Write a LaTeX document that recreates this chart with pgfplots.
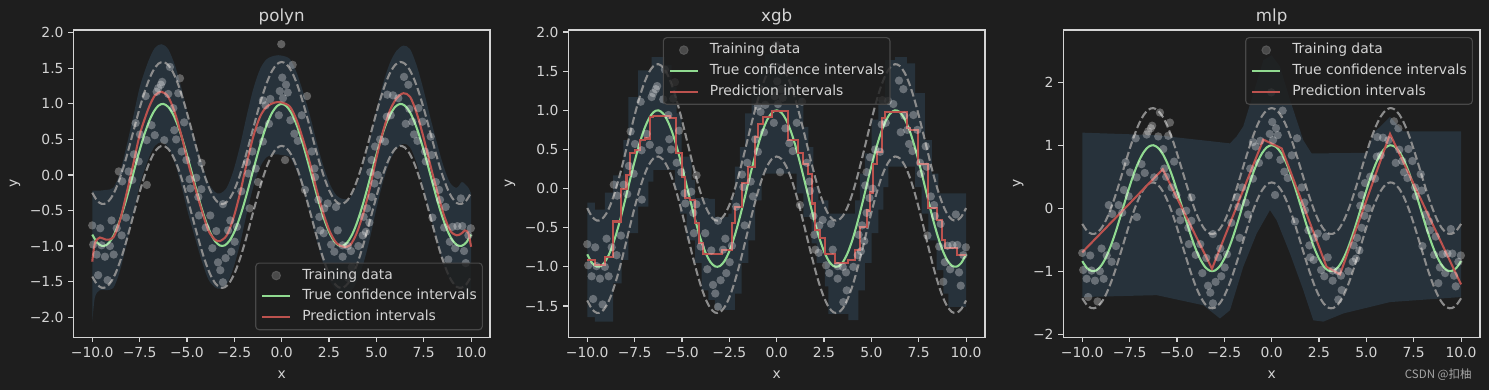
\documentclass[border=0pt]{standalone}
\usepackage{pgfplots}
\pgfplotsset{compat=1.18}
\usepackage{pgfplotstable}
\usepgfplotslibrary{fillbetween}
\usepackage{fontspec}
\setmainfont{DejaVu Sans}
\newfontfamily\cjk{Noto Sans CJK SC}

\definecolor{bgc}{RGB}{30,30,30}
\definecolor{fgc}{RGB}{212,212,212}
\definecolor{bandc}{RGB}{39,50,59}
\definecolor{tcgreen}{RGB}{144,218,144}
\definecolor{pred}{RGB}{188,82,78}
\definecolor{dashc}{RGB}{140,140,140}
\definecolor{legc}{RGB}{72,72,72}
\definecolor{wmc}{RGB}{165,165,165}
\definecolor{legmark}{RGB}{86,86,86}

\pgfplotstableread{
x y
-10.00 -0.71
-9.95 -0.98
-9.77 -1.12
-9.58 -0.75
-9.69 -1.41
-9.19 -1.48
-9.33 -1.15
-9.51 -0.99
-9.07 -1.00
-8.98 -0.64
-8.87 -1.12
-8.71 -0.75
-8.45 -0.85
-8.22 -0.60
-8.60 0.05
-8.08 0.05
-8.42 -0.09
-7.89 -0.07
-7.12 -0.14
-7.80 0.29
-7.55 0.19
-7.71 0.73
-7.48 0.57
-7.13 0.49
-6.87 0.70
-6.70 0.56
-7.18 1.11
-6.38 1.27
-6.31 1.31
-6.52 1.22
-6.60 1.17
-5.90 1.52
-5.37 1.36
-5.99 1.14
-5.46 1.15
-5.67 0.63
-6.20 0.49
-5.57 0.50
-5.28 0.33
-5.15 0.74
-5.72 0.94
-4.23 0.17
-5.03 0.21
-4.86 -0.06
-4.51 -0.04
-4.82 -0.19
-4.24 -0.20
-4.40 -0.31
-2.13 -0.23
-3.10 -0.41
-1.69 -0.47
-4.37 -0.57
-3.77 -0.57
-2.71 -0.64
-4.01 -0.74
-3.45 -0.79
-2.83 -0.78
-2.36 -0.73
-2.48 -0.94
-3.66 -1.03
-2.66 -1.08
-2.96 -1.17
-3.36 -1.23
-3.24 -1.34
-3.10 -1.51
-1.25 -0.10
-1.37 0.09
-1.83 0.18
-1.76 0.02
-1.55 0.33
-0.99 0.47
-1.13 0.63
-0.67 0.72
-0.15 0.84
-0.85 0.98
-0.60 1.07
-0.99 1.05
-0.10 1.18
0.07 1.08
0.03 1.37
-0.02 1.84
0.58 1.55
0.23 1.27
0.32 1.16
1.34 1.11
0.46 0.77
1.06 0.84
0.67 0.58
0.85 0.48
1.59 0.33
0.18 0.21
1.73 0.09
1.76 -0.03
1.23 -0.21
1.94 -0.35
2.43 -0.40
2.87 -0.45
2.25 -0.47
1.99 -0.59
2.04 -0.78
2.22 -0.82
2.96 -0.78
2.61 -0.98
2.78 -1.08
3.22 -0.99
3.22 -1.15
3.49 -1.00
3.66 -1.07
4.05 -1.00
4.28 -0.85
4.45 -0.80
4.63 -0.67
4.33 -0.59
4.51 -0.47
4.75 -0.31
4.90 -0.12
4.68 0.04
5.07 0.00
4.75 0.21
4.93 0.40
5.20 0.50
3.52 -1.45
3.70 -1.30
6.46 1.38
6.69 1.27
5.58 1.13
5.88 1.12
6.16 1.08
7.22 0.94
5.76 0.84
5.55 0.82
6.55 0.72
6.90 0.75
7.43 0.75
6.74 0.93
6.99 0.57
7.17 0.48
7.87 0.54
7.61 0.19
7.57 0.33
7.92 0.28
5.46 0.47
8.14 -0.10
8.31 -0.21
8.36 -0.35
8.66 -0.45
9.46 -0.33
7.96 -0.60
8.58 -0.74
9.02 -0.73
9.28 -0.72
9.54 -0.72
9.99 -0.75
8.88 -0.94
9.16 -1.03
9.63 -1.07
9.86 -0.85
9.72 -1.24
8.80 -1.19
}\train

\pgfplotstableread{
x c up lo
-10 -0.839 -0.249 -1.429
-9.75 -0.949 -0.359 -1.539
-9.5 -0.997 -0.407 -1.587
-9.25 -0.985 -0.395 -1.575
-9 -0.911 -0.321 -1.501
-8.75 -0.781 -0.191 -1.371
-8.5 -0.602 -0.012 -1.192
-8.25 -0.388 0.202 -0.978
-8 -0.146 0.444 -0.736
-7.75 0.104 0.694 -0.486
-7.5 0.347 0.937 -0.243
-7.25 0.568 1.158 -0.022
-7 0.754 1.344 0.164
-6.75 0.893 1.483 0.303
-6.5 0.977 1.567 0.387
-6.25 1.000 1.590 0.410
-6 0.960 1.550 0.370
-5.75 0.861 1.451 0.271
-5.5 0.709 1.299 0.119
-5.25 0.512 1.102 -0.078
-5 0.284 0.874 -0.306
-4.75 0.038 0.628 -0.552
-4.5 -0.211 0.379 -0.801
-4.25 -0.446 0.144 -1.036
-4 -0.654 -0.064 -1.244
-3.75 -0.821 -0.231 -1.411
-3.5 -0.937 -0.347 -1.527
-3.25 -0.994 -0.404 -1.584
-3 -0.990 -0.400 -1.580
-2.75 -0.924 -0.334 -1.514
-2.5 -0.801 -0.211 -1.391
-2.25 -0.628 -0.038 -1.218
-2 -0.416 0.174 -1.006
-1.75 -0.178 0.412 -0.768
-1.5 0.071 0.661 -0.519
-1.25 0.315 0.905 -0.275
-1 0.540 1.130 -0.050
-0.75 0.732 1.322 0.142
-0.5 0.878 1.468 0.288
-0.25 0.969 1.559 0.379
0 1.000 1.590 0.410
0.25 0.969 1.559 0.379
0.5 0.878 1.468 0.288
0.75 0.732 1.322 0.142
1 0.540 1.130 -0.050
1.25 0.315 0.905 -0.275
1.5 0.071 0.661 -0.519
1.75 -0.178 0.412 -0.768
2 -0.416 0.174 -1.006
2.25 -0.628 -0.038 -1.218
2.5 -0.801 -0.211 -1.391
2.75 -0.924 -0.334 -1.514
3 -0.990 -0.400 -1.580
3.25 -0.994 -0.404 -1.584
3.5 -0.937 -0.347 -1.527
3.75 -0.821 -0.231 -1.411
4 -0.654 -0.064 -1.244
4.25 -0.446 0.144 -1.036
4.5 -0.211 0.379 -0.801
4.75 0.038 0.628 -0.552
5 0.284 0.874 -0.306
5.25 0.512 1.102 -0.078
5.5 0.709 1.299 0.119
5.75 0.861 1.451 0.271
6 0.960 1.550 0.370
6.25 1.000 1.590 0.410
6.5 0.977 1.567 0.387
6.75 0.893 1.483 0.303
7 0.754 1.344 0.164
7.25 0.568 1.158 -0.022
7.5 0.347 0.937 -0.243
7.75 0.104 0.694 -0.486
8 -0.146 0.444 -0.736
8.25 -0.388 0.202 -0.978
8.5 -0.602 -0.012 -1.192
8.75 -0.781 -0.191 -1.371
9 -0.911 -0.321 -1.501
9.25 -0.985 -0.395 -1.575
9.5 -0.997 -0.407 -1.587
9.75 -0.949 -0.359 -1.539
10 -0.839 -0.249 -1.429
}\truth

\pgfplotstableread{
x r lo hi
-10 -1.22 -2.07 -0.22
-9.86 -0.96 -1.72 -0.22
-9.6 -0.88 -1.62 -0.22
-9.28 -0.91 -1.62 -0.21
-8.89 -0.88 -1.59 -0.18
-8.54 -0.64 -1.35 0.03
-8.19 -0.26 -0.97 0.41
-7.83 0.16 -0.55 0.83
-7.48 0.58 -0.13 1.25
-7.04 0.93 0.22 1.60
-6.69 1.12 0.41 1.79
-6.34 1.17 0.46 1.84
-5.99 1.10 0.39 1.77
-5.63 0.87 0.16 1.54
-5.28 0.54 -0.17 1.21
-4.93 0.16 -0.55 0.83
-4.58 -0.17 -0.88 0.50
-4.23 -0.49 -1.20 0.18
-3.87 -0.78 -1.47 -0.11
-3.52 -0.91 -1.58 -0.24
-3.26 -0.93 -1.60 -0.26
-2.9 -0.85 -1.54 -0.18
-2.55 -0.61 -1.31 0.06
-2.2 -0.26 -0.97 0.41
-1.85 0.16 -0.55 0.83
-1.5 0.54 -0.17 1.21
-1.14 0.82 0.11 1.49
-0.79 0.96 0.25 1.63
-0.35 1.02 0.29 1.68
0 1.02 0.28 1.68
0.44 0.96 0.25 1.63
0.79 0.77 0.06 1.44
1.14 0.49 -0.22 1.16
1.5 0.16 -0.55 0.83
1.85 -0.21 -0.92 0.46
2.2 -0.54 -1.25 0.13
2.55 -0.80 -1.49 -0.13
2.9 -0.96 -1.62 -0.29
3.26 -1.01 -1.66 -0.34
3.61 -0.99 -1.65 -0.32
3.96 -0.82 -1.51 -0.15
4.31 -0.54 -1.25 0.13
4.67 -0.17 -0.88 0.50
5.02 0.26 -0.45 0.93
5.37 0.63 -0.08 1.30
5.72 0.91 0.20 1.58
6.07 1.08 0.37 1.75
6.43 1.15 0.44 1.82
6.78 1.10 0.39 1.77
7.13 0.87 0.16 1.54
7.48 0.54 -0.17 1.21
7.83 0.16 -0.55 0.83
8.19 -0.21 -0.92 0.46
8.54 -0.54 -1.25 0.13
8.89 -0.78 -1.49 -0.11
9.24 -0.85 -1.56 -0.18
9.51 -0.82 -1.60 -0.10
9.68 -0.78 -1.62 -0.13
9.86 -0.82 -1.70 -0.18
10 -1.01 -1.80 -0.26
}\polyn

\pgfplotstableread{
x r
-10 -0.91
-9.6 -0.98
-9.07 -0.87
-8.63 -0.42
-8.2 0.00
-7.93 0.17
-7.76 0.45
-7.49 0.49
-7.23 0.62
-6.96 0.64
-6.7 0.92
-6.52 0.93
-5.64 0.90
-5.32 0.45
-5.02 0.15
-4.84 -0.12
-4.58 -0.15
-4.31 -0.44
-4.1 -0.70
-3.87 -0.84
-2.9 -0.79
-2.38 -0.44
-2.2 -0.23
-1.85 0.07
-1.5 0.28
-1.14 0.66
-0.97 0.83
-0.7 0.91
-0.26 0.99
0.62 0.62
1.14 0.46
1.41 0.32
1.67 0.19
1.85 -0.19
2.02 -0.53
2.29 -0.63
2.55 -0.83
3.08 -0.95
3.79 -0.91
4.14 -0.78
4.4 -0.49
4.75 -0.28
4.93 -0.05
5.11 0.32
5.28 0.47
5.55 0.90
5.72 0.98
6.87 0.77
7.04 0.75
7.48 0.32
8.01 -0.25
8.45 -0.40
8.71 -0.66
8.89 -0.76
9.51 -0.85
10 -0.85
}\xgbred

\pgfplotstableread{
x y
-10 -0.18
-9.6 -0.27
-9.07 -0.05
-8.63 0.17
-8.1 0.62
-7.83 1.17
-7.31 1.51
-6.6 1.68
-5.9 1.58
-5.55 1.30
-5.28 0.96
-5.02 0.41
-4.49 0.11
-4.31 -0.12
-3.61 -0.13
-3.26 -0.36
-2.55 -0.32
-2.38 -0.10
-2.2 0.28
-1.94 0.53
-1.67 0.96
-1.32 1.22
-0.97 1.56
-0.62 1.72
0.62 1.43
1.14 1.17
1.41 0.79
1.67 0.53
1.94 0.02
2.2 -0.15
2.73 -0.32
3.79 -0.32
4.14 -0.15
4.4 0.19
4.66 0.45
5.02 0.88
5.37 1.13
5.72 1.64
6.25 1.68
6.87 1.60
7.31 1.22
7.83 0.62
8.19 0.19
8.54 -0.06
10 -0.06
}\xgbhi

\pgfplotstableread{
x y
-10 -1.64
-9.6 -1.70
-8.63 -1.21
-8.19 -0.91
-7.83 -0.57
-7.31 -0.23
-6.78 0.09
-6.51 0.24
-5.37 -0.02
-5.11 -0.32
-4.75 -0.66
-4.31 -0.95
-3.96 -1.30
-3.61 -1.42
-3.26 -1.55
-2.2 -1.34
-1.85 -0.95
-1.5 -0.66
-1.14 -0.15
-0.79 0.17
-0.62 0.19
1.06 -0.06
1.41 -0.36
1.85 -0.70
2.11 -0.95
2.55 -1.25
2.73 -1.60
3.79 -1.68
4.31 -1.30
4.66 -0.95
5.02 -0.57
5.37 -0.27
5.63 0.02
5.9 0.28
7.31 0.02
7.66 -0.32
8.01 -0.66
8.45 -1.04
8.8 -1.34
9.07 -1.51
10 -1.57
}\xgblo

\pgfplotstableread{
x r
-10 -0.70
-5.75 0.62
-3.15 -0.96
-0.44 1.09
0.53 0.95
2.9 -0.93
3.61 -1.05
6.25 1.18
10 -1.21
}\mlpred

\pgfplotstableread{
x y
-10 1.20
-6.07 1.16
-2.2 1.03
-1.85 1.14
-1.5 1.30
-0.97 1.82
-0.44 2.35
0 2.43
0.44 2.25
0.97 1.72
1.67 1.08
2.11 0.87
5.02 0.88
5.37 1.19
6.25 1.45
6.95 1.22
10 1.22
}\mlphi

\pgfplotstableread{
x y
-10 -1.41
-6.07 -1.38
-3.61 -1.54
-2.73 -1.75
-2.2 -1.62
-1.5 -0.93
-0.79 -0.40
-0.09 -0.03
0.26 -0.19
0.97 -0.72
1.67 -1.30
2.2 -1.78
2.73 -1.80
3.79 -1.67
6.25 -1.49
10 -1.41
}\mlplo

\pgfplotsset{
  panel/.style={
    scale only axis, width=300pt, height=221.3pt,
    xmin=-11, xmax=11,
    axis line style={fgc, line width=0.8pt},
    tick style={fgc, line width=0.8pt},
    major tick length=3.5pt,
    tick align=outside,
    tick pos=left,
    xtick={-10,-7.5,-5,-2.5,0,2.5,5,7.5,10},
    xticklabels={−10.0,−7.5,−5.0,−2.5,0.0,2.5,5.0,7.5,10.0},
    tick label style={font=\fontsize{10}{12}\selectfont, text=fgc},
    label style={font=\fontsize{10}{12}\selectfont, text=fgc},
    xlabel style={yshift=-2.5pt},
    title style={font=\fontsize{12}{14}\selectfont, text=fgc, anchor=base},
    xlabel={x}, ylabel={y},
    legend cell align=left,
    legend style={fill=bgc, fill opacity=0.8, draw opacity=1, text opacity=1,
      draw=legc, line width=0.8pt, rounded corners=2.5pt, text=fgc,
      font=\fontsize{10}{12}\selectfont, inner sep=4pt, row sep=5pt,
      nodes={inner sep=0pt, text height=7.5pt, text depth=2.5pt},
      /tikz/every odd column/.append style={column sep=8pt}},
  },
  scat/.style={only marks, mark=*, mark size=3pt,
    mark options={fill=white, fill opacity=0.3, draw opacity=0},
    legend image code/.code={\fill[legmark] (10pt,0pt) circle (3pt);}},
  dsh/.style={dashc, line width=1.5pt, dash pattern=on 5.55pt off 2.4pt, smooth, forget plot},
  grn/.style={tcgreen, line width=1.5pt, smooth,
    legend image code/.code={\draw[tcgreen, line width=1.5pt] (0pt,0pt) -- (20pt,0pt);}},
  prd/.style={pred, line width=1.5pt,
    legend image code/.code={\draw[pred, line width=1.5pt] (0pt,0pt) -- (20pt,0pt);}},
}

\begin{document}
\pagecolor{bgc}%
\begin{tikzpicture}

% ---------- polyn ----------
\begin{axis}[panel, at={(0pt,0pt)}, title={polyn},
  ymin=-2.285, ymax=2.04,
  ytick={-2,-1.5,-1,-0.5,0,0.5,1,1.5,2},
  yticklabels={−2.0,−1.5,−1.0,−0.5,0.0,0.5,1.0,1.5,2.0},
  legend style={at={(0.983,0.023)}, anchor=south east}]
\addplot[draw=none, smooth, name path=pu, forget plot] table[x=x,y=hi]{\polyn};
\addplot[draw=none, smooth, name path=pl, forget plot] table[x=x,y=lo]{\polyn};
\addplot[fill=bandc, draw=none, forget plot] fill between[of=pu and pl];
\addplot[scat] table[x=x,y=y]{\train};
\addlegendentry{Training data}
\addplot[dsh] table[x=x,y=up]{\truth};
\addplot[dsh] table[x=x,y=lo]{\truth};
\addplot[grn] table[x=x,y=c]{\truth};
\addlegendentry{True confidence intervals}
\addplot[prd, smooth] table[x=x,y=r]{\polyn};
\addlegendentry{Prediction intervals}
\end{axis}

% ---------- xgb ----------
\begin{axis}[panel, at={(356.4pt,0pt)}, title={xgb},
  ymin=-1.9, ymax=2.026,
  ytick={-1.5,-1,-0.5,0,0.5,1,1.5,2},
  yticklabels={−1.5,−1.0,−0.5,0.0,0.5,1.0,1.5,2.0},
  legend style={at={(0.5,0.977)}, anchor=north}]
\addplot[draw=none, const plot, name path=xu, forget plot] table[x=x,y=y]{\xgbhi};
\addplot[draw=none, const plot, name path=xl, forget plot] table[x=x,y=y]{\xgblo};
\addplot[fill=bandc, draw=none, forget plot] fill between[of=xu and xl];
\addplot[scat] table[x=x,y=y]{\train};
\addlegendentry{Training data}
\addplot[dsh] table[x=x,y=up]{\truth};
\addplot[dsh] table[x=x,y=lo]{\truth};
\addplot[grn] table[x=x,y=c]{\truth};
\addlegendentry{True confidence intervals}
\addplot[prd, const plot] table[x=x,y=r]{\xgbred};
\addlegendentry{Prediction intervals}
\end{axis}

% ---------- mlp ----------
\begin{axis}[panel, at={(712.8pt,0pt)}, title={mlp},
  ymin=-2.05, ymax=2.83,
  ytick={-2,-1,0,1,2},
  yticklabels={−2,−1,0,1,2},
  legend style={at={(0.983,0.977)}, anchor=north east}]
\addplot[draw=none, name path=mu, forget plot] table[x=x,y=y]{\mlphi};
\addplot[draw=none, name path=ml, forget plot] table[x=x,y=y]{\mlplo};
\addplot[fill=bandc, draw=none, forget plot] fill between[of=mu and ml];
\addplot[scat] table[x=x,y=y]{\train};
\addlegendentry{Training data}
\addplot[dsh] table[x=x,y=up]{\truth};
\addplot[dsh] table[x=x,y=lo]{\truth};
\addplot[grn] table[x=x,y=c]{\truth};
\addlegendentry{True confidence intervals}
\addplot[prd] table[x=x,y=r]{\mlpred};
\addlegendentry{Prediction intervals}
\end{axis}

\node[anchor=east, text=wmc, inner sep=0pt] at (1007pt,-26.6pt) {\cjk\fontsize{8.3}{10}\selectfont CSDN @扣柚};
\pgfresetboundingbox
\path[use as bounding box] (-52.8pt,-37.9pt) rectangle (1019.3pt,242.9pt);
\end{tikzpicture}%
\end{document}
